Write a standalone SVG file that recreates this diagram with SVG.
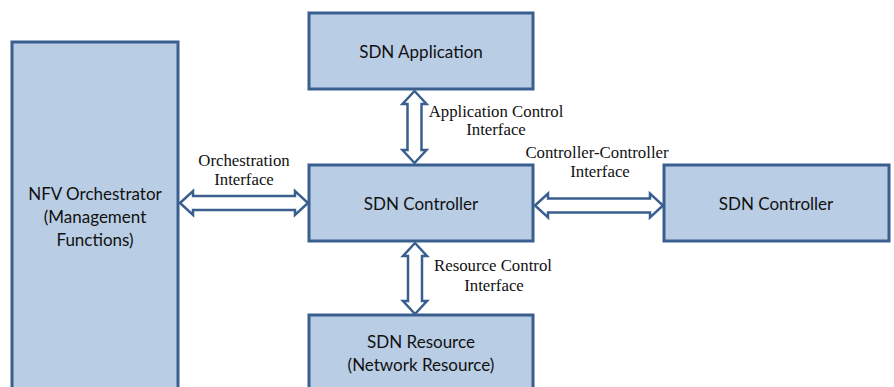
<svg xmlns="http://www.w3.org/2000/svg" width="894" height="387" viewBox="0 0 894 387">
  <style>
    .box { fill: #B9CDE5; stroke: #3A5F8F; stroke-width: 3; }
    .name { font-family: Lato, "Open Sans", sans-serif; font-size: 17px; fill: #111; text-anchor: middle; }
    .arrow { fill: #fff; stroke: #3A5F8F; stroke-width: 2.5; stroke-linejoin: miter; }
    .lbl { font-family: "Liberation Serif", "Times New Roman", serif; font-size: 16.8px; fill: #111; text-anchor: middle; }
  </style>
  <rect width="894" height="387" fill="#fff"/>

  <g id="nfv-orchestrator">
    <rect class="box" x="12" y="42" width="166" height="360"/>
    <text class="name" x="95" y="200">NFV Orchestrator</text>
    <text class="name" x="95" y="223">(Management</text>
    <text class="name" x="95" y="246">Functions)</text>
  </g>

  <g id="sdn-application">
    <rect class="box" x="309" y="13" width="224" height="76"/>
    <text class="name" x="421" y="58">SDN Application</text>
  </g>

  <g id="sdn-controller">
    <rect class="box" x="309" y="165" width="224" height="76"/>
    <text class="name" x="421" y="210">SDN Controller</text>
  </g>

  <g id="sdn-controller-peer">
    <rect class="box" x="664" y="165" width="225" height="76"/>
    <text class="name" x="776" y="210">SDN Controller</text>
  </g>

  <g id="sdn-resource">
    <rect class="box" x="309" y="315" width="224" height="90"/>
    <text class="name" x="421" y="348">SDN Resource</text>
    <text class="name" x="421" y="371">(Network Resource)</text>
  </g>

  <g id="connectors">
    <!-- Orchestration interface -->
    <path class="arrow" d="M180,203 L193,191 L193,196 L295,196 L295,191 L308,203 L295,215 L295,210 L193,210 L193,215 Z"/>
    <!-- Controller-controller interface -->
    <path class="arrow" d="M535,205.5 L548,193.5 L548,198.5 L650,198.5 L650,193.5 L663,205.5 L650,217.5 L650,212.5 L548,212.5 L548,217.5 Z"/>
    <!-- Application control interface -->
    <path class="arrow" d="M414.5,91 L426.5,104 L421.5,104 L421.5,150 L426.5,150 L414.5,163 L402.5,150 L407.5,150 L407.5,104 L402.5,104 Z"/>
    <!-- Resource control interface -->
    <path class="arrow" d="M415,243 L427,256 L422,256 L422,301 L427,301 L415,314 L403,301 L408,301 L408,256 L403,256 Z"/>

    <text class="lbl" x="244" y="166">Orchestration</text>
    <text class="lbl" x="244" y="185">Interface</text>
    <text class="lbl" x="496" y="117">Application Control</text>
    <text class="lbl" x="496" y="135">Interface</text>
    <text class="lbl" x="597" y="158">Controller-Controller</text>
    <text class="lbl" x="600" y="177">Interface</text>
    <text class="lbl" x="493" y="271">Resource Control</text>
    <text class="lbl" x="494" y="291">Interface</text>
  </g>
</svg>
